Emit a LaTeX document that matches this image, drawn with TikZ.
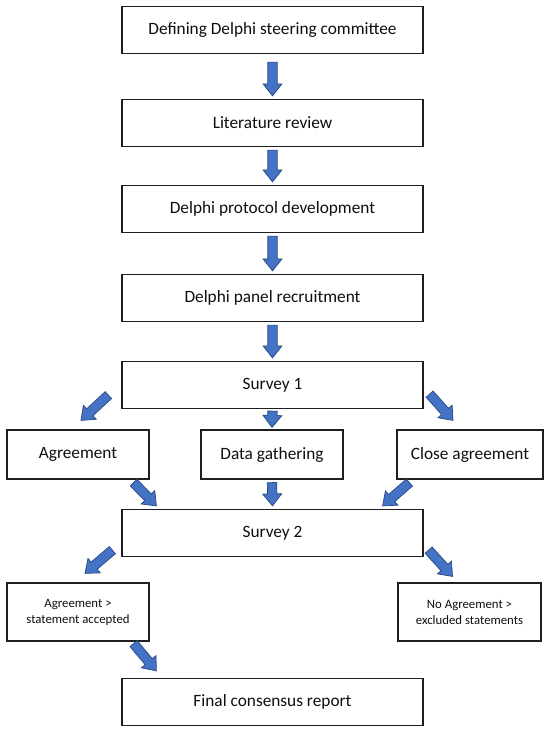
\documentclass[tikz,border=0pt]{standalone}
\usepackage{fontspec}
\setmainfont{Carlito}
\usetikzlibrary{calc}
\definecolor{arrfillcol}{RGB}{68,114,196}
\definecolor{arrlinecol}{RGB}{40,72,130}
\definecolor{boxcol}{RGB}{30,30,30}
\definecolor{txtcol}{RGB}{15,15,15}
% block arrow from #1 to #2 (shaft 9.4pt, head 19pt wide, 12pt long)
\newcommand{\fatarr}[2]{%
  \coordinate (fa-s) at (#1); \coordinate (fa-e) at (#2);
  \coordinate (fa-h) at ($(fa-e)!12pt!(fa-s)$);
  \draw[fatarrow] ($(fa-s)!4.7pt!90:(fa-e)$) -- ($(fa-h)!4.7pt!-90:(fa-s)$)
    -- ($(fa-h)!9.5pt!-90:(fa-s)$) -- (fa-e) -- ($(fa-h)!9.5pt!90:(fa-s)$)
    -- ($(fa-h)!4.7pt!90:(fa-s)$) -- ($(fa-s)!4.7pt!-90:(fa-e)$) -- cycle;}

\begin{document}
\begin{tikzpicture}[x=1pt, y=-1pt, line join=miter,
  stepbox/.style={draw=boxcol, line width=1.2pt, fill=white, text=txtcol,
    minimum width=301pt, minimum height=47pt, inner sep=0pt,
    font=\fontsize{17.3}{20}\selectfont},
  sidebox/.style={stepbox, minimum width=142pt, minimum height=49pt},
  endbox/.style={stepbox, minimum width=142pt, minimum height=58pt,
    align=center, font=\fontsize{12.8}{16}\selectfont},
  fatarrow/.style={draw=arrlinecol, fill=arrfillcol, line width=0.7pt}]

\useasboundingbox (0,0) rectangle (550,732);

% ------------------------------------------------------------------
% main chain of steps
% ------------------------------------------------------------------
\node[stepbox] (steer) at (272.5,30)  {Defining Delphi steering committee};
\node[stepbox] (lit)   at (272.5,123) {Literature review};
\node[stepbox] (proto) at (272.5,209) {Delphi protocol development};
\node[stepbox] (panel) at (272.5,298) {Delphi panel recruitment};
\node[stepbox] (surv1) at (272.5,385) {Survey 1};

% ------------------------------------------------------------------
% outcomes of survey 1
% ------------------------------------------------------------------
\node[sidebox] (agree) at (78,454.5)  {Agreement};
\node[sidebox] (data)  at (272,454.5) {Data gathering};
\node[sidebox, minimum width=146pt] (close) at (470,454.5) {Close agreement};

\node[stepbox] (surv2) at (272.5,533) {Survey 2};

% ------------------------------------------------------------------
% outcomes of survey 2
% ------------------------------------------------------------------
\node[endbox] (acc)  at (78,612)    {Agreement >\\statement accepted};
\node[endbox, minimum width=143pt] (excl) at (469.5,612) {No Agreement >\\excluded statements};

\node[stepbox] (final) at (272.5,702) {Final consensus report};

% ------------------------------------------------------------------
% block arrows
% ------------------------------------------------------------------
\fatarr{[yshift=-8pt]steer.south}{[yshift=3pt]lit.north}
\fatarr{[yshift=-3pt]lit.south}{[yshift=3pt]proto.north}
\fatarr{[yshift=-3pt]proto.south}{[yshift=3pt]panel.north}
\fatarr{[yshift=-3pt]panel.south}{[yshift=3pt]surv1.north}

\fatarr{$(surv1.south west)+(-13,-14)$}{$(agree.north)+(3,-9)$}
\fatarr{[yshift=-2pt]surv1.south}{[yshift=2pt]data.north}
\fatarr{$(surv1.south east)+(6,-15)$}{$(close.north)+(-17,-9)$}

\fatarr{$(agree.south east)+(-16,3)$}{$(surv2.north west)+(35,-3)$}
\fatarr{[yshift=-3pt]data.south}{[yshift=3pt]surv2.north}
\fatarr{$(close.south west)+(13,3)$}{$(surv2.north east)+(-41,-3)$}

\fatarr{$(surv2.south west)+(-9,-7)$}{$(acc.north)+(7,-9)$}
\fatarr{$(surv2.south east)+(5,-7)$}{$(excl.north)+(-17,-6)$}
\fatarr{$(acc.south east)+(-16,2)$}{$(final.north west)+(35,-7)$}

\end{tikzpicture}
\end{document}
